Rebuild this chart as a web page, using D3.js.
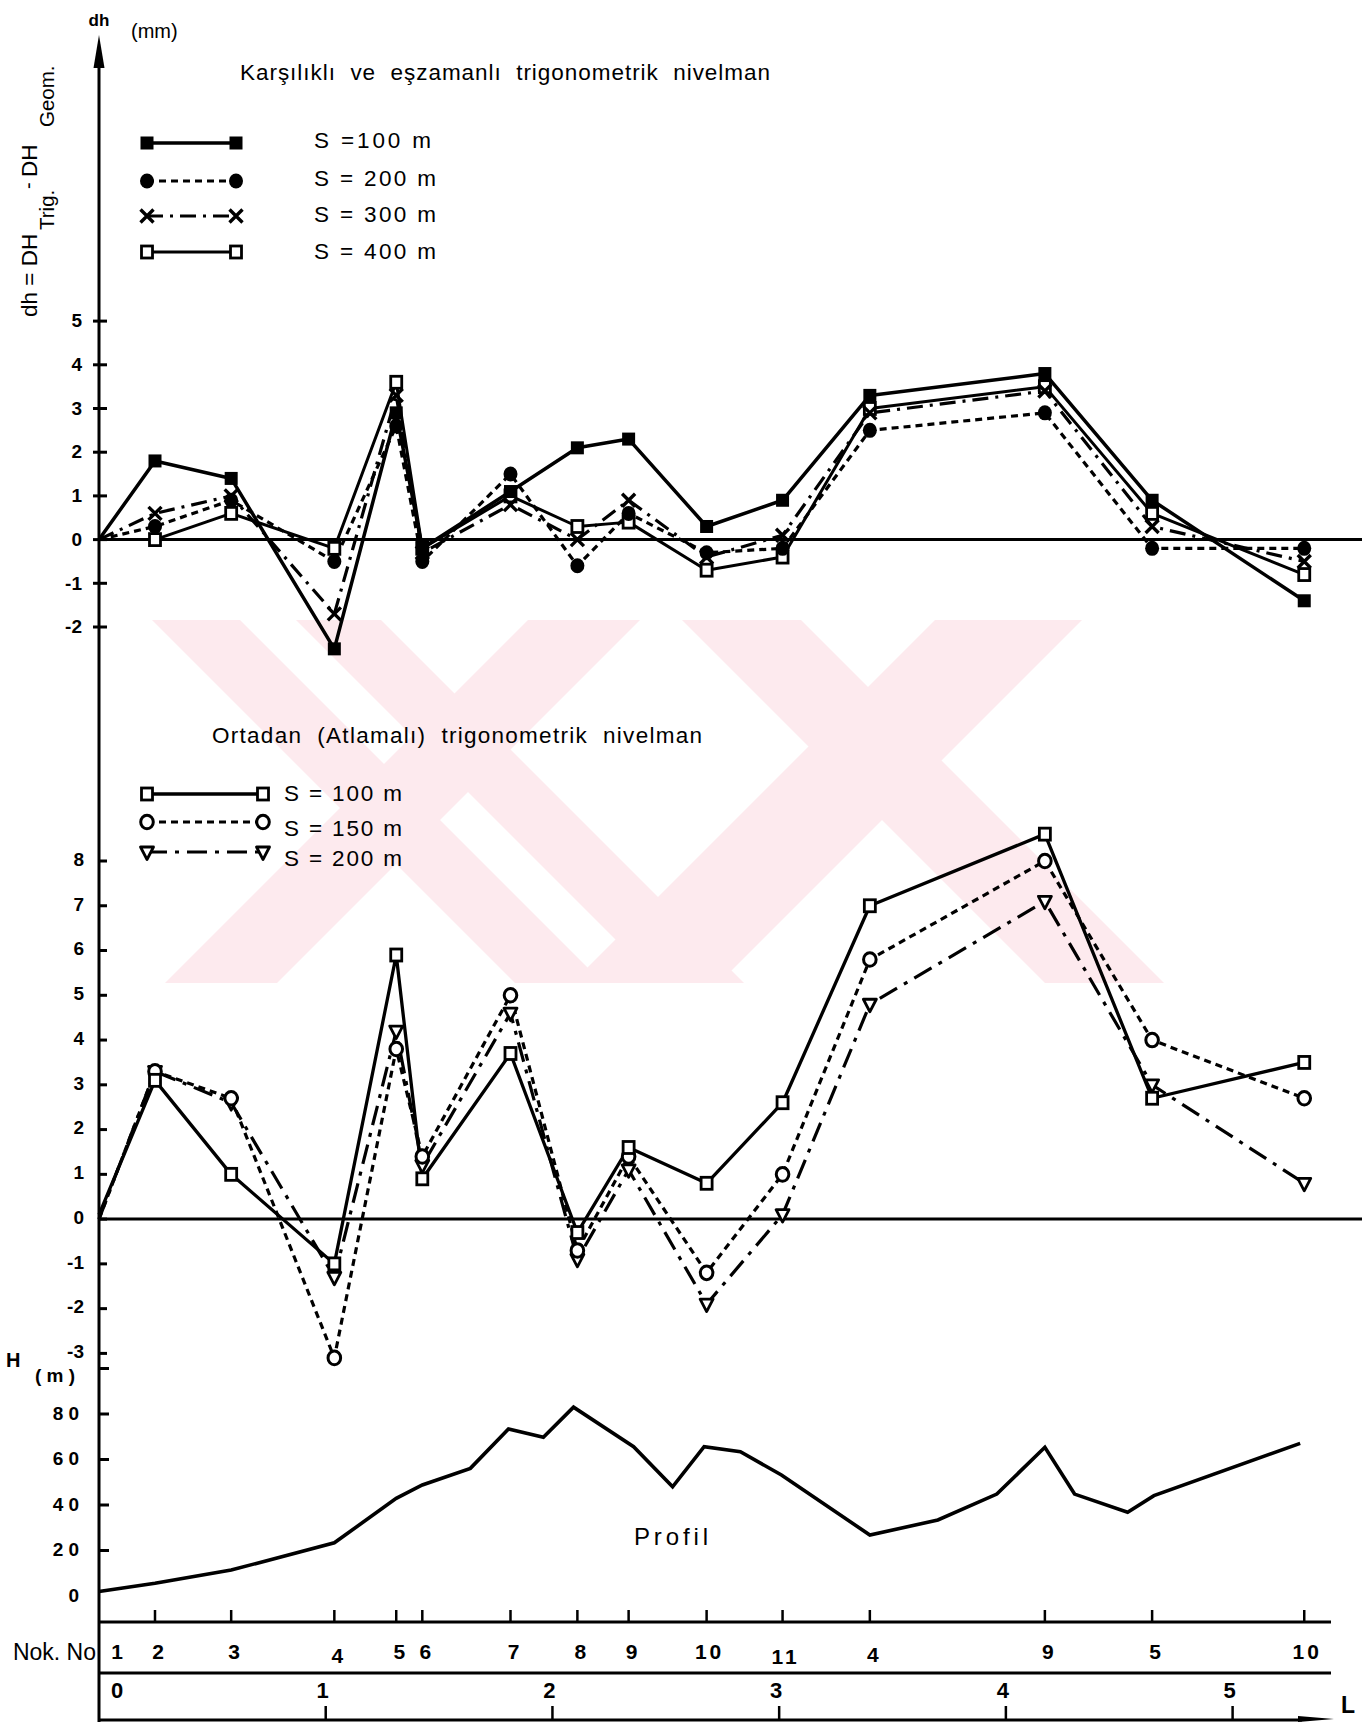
<!DOCTYPE html>
<html><head><meta charset="utf-8">
<script src="https://cdnjs.cloudflare.com/ajax/libs/d3/7.8.5/d3.min.js"></script>
<style>
html,body{margin:0;padding:0;background:#fff;}
svg{display:block;}
text{font-family:"Liberation Sans",Arial,sans-serif;fill:#000;}
.num{font-weight:bold;}
</style></head><body>
<div id="chart"></div>
<script>
// ---------------- DATA ----------------
const stations   = ["1","2","3","4","5","6","7","8","9","10","11","4","9","5","10"];
const stationKm  = [0, 0.247, 0.583, 1.038, 1.311, 1.426, 1.815, 2.110, 2.336, 2.680, 3.015, 3.400, 4.172, 4.645, 5.316];
const kmTicks    = [0, 1, 2, 3, 4, 5];

// Karşılıklı ve eşzamanlı trigonometrik nivelman (dh, mm)
const recipLabels = ["S =100 m", "S = 200 m", "S = 300 m", "S = 400 m"];
const recipS100 = [0, 1.8, 1.4, -2.5, 2.9, -0.2, 1.1, 2.1, 2.3, 0.3, 0.9, 3.3, 3.8, 0.9, -1.4];
const recipS200 = [0, 0.3, 0.9, -0.5, 2.6, -0.5, 1.5, -0.6, 0.6, -0.3, -0.2, 2.5, 2.9, -0.2, -0.2];
const recipS300 = [0, 0.6, 1.0, -1.7, 3.3, -0.3, 0.8, 0.0, 0.9, -0.4, 0.1, 2.9, 3.4, 0.3, -0.5];
const recipS400 = [0, 0.0, 0.6, -0.2, 3.6, -0.2, 1.0, 0.3, 0.4, -0.7, -0.4, 3.0, 3.5, 0.6, -0.8];

// Ortadan (Atlamalı) trigonometrik nivelman (dh, mm)
const midLabels = ["S = 100 m", "S = 150 m", "S = 200 m"];
const midS100 = [0.1, 3.1, 1.0, -1.0, 5.9, 0.9, 3.7, -0.3, 1.6, 0.8, 2.6, 7.0, 8.6, 2.7, 3.5];
const midS150 = [0, 3.3, 2.7, -3.1, 3.8, 1.4, 5.0, -0.7, 1.4, -1.2, 1.0, 5.8, 8.0, 4.0, 2.7];
const midS200 = [0, 3.3, 2.6, -1.3, 4.2, 1.2, 4.6, -0.9, 1.1, -1.9, 0.1, 4.8, 7.1, 3.0, 0.8];

// Profil (H, m)
const profileKm = [0, 0.247, 0.583, 1.038, 1.311, 1.426, 1.638, 1.806, 1.960, 2.093, 2.358, 2.530, 2.669, 2.829, 3.010, 3.400, 3.700, 3.960, 4.172, 4.303, 4.537, 4.653, 5.298];
const profileH  = [2, 5.6, 11.4, 23.4, 42.9, 48.8, 56.1, 73.4, 69.8, 83.0, 65.6, 48.0, 65.6, 63.4, 53.2, 26.8, 33.4, 44.8, 65.4, 44.8, 36.8, 44.1, 67.1];

// tick labels
const topTicks = [5, 4, 3, 2, 1, 0, -1, -2];
const midTicks = [8, 7, 6, 5, 4, 3, 2, 1, 0, -1, -2, -3];
const hTicks = [20, 40, 60, 80, 100];
const hTickLabels = [0, 20, 40, 60, 80];

// ---------------- CHART ----------------
const W = 1362, H = 1722;
const AX = 99;
const svg = d3.select("#chart").append("svg").attr("width", W).attr("height", H);

const x = d3.scaleLinear().domain([0, 5]).range([AX, 1232.6]);
const yTop = d3.scaleLinear().domain([-2, 5]).range([627, 321.1]);
const yMid = d3.scaleLinear().domain([-3, 8]).range([1353.4, 861]);
const yH = d3.scaleLinear().domain([0, 80]).range([1596, 1414]);

// watermark (decorative, light pink)
const wm = svg.append("g").attr("fill", "#fdeaee");
const wmTop = 620, wmBot = 983;
[
  [[152,240],[515,603]],
  [[296,381],[659,744]],
  [[528,640],[165,277]],
  [[682,801],[1045,1164]],
  [[935,1082],[572,719]]
].forEach(([t,b]) => {
  wm.append("path").attr("d", `M${t[0]},${wmTop}L${t[1]},${wmTop}L${b[1]},${wmBot}L${b[0]},${wmBot}Z`);
});

// zero lines
svg.append("line").attr("x1", AX).attr("x2", W).attr("y1", yTop(0)).attr("y2", yTop(0)).attr("stroke", "#000").attr("stroke-width", 3);
svg.append("line").attr("x1", AX).attr("x2", W).attr("y1", yMid(0)).attr("y2", yMid(0)).attr("stroke", "#000").attr("stroke-width", 3);

function drawMarker(g, type, cx, cy) {
  const m = g.append("g").attr("transform", `translate(${cx},${cy})`);
  if (type === "fsq") m.append("rect").attr("x", -6.5).attr("y", -6.5).attr("width", 13).attr("height", 13).attr("fill", "#000");
  else if (type === "fci") m.append("ellipse").attr("rx", 7).attr("ry", 7.5).attr("fill", "#000");
  else if (type === "x") m.append("path").attr("d", "M-6.5,-6.5L6.5,6.5M-6.5,6.5L6.5,-6.5").attr("stroke", "#000").attr("stroke-width", 3.4).attr("fill", "none");
  else if (type === "osq") m.append("rect").attr("x", -5.5).attr("y", -6).attr("width", 11).attr("height", 12).attr("fill", "#fff").attr("stroke", "#000").attr("stroke-width", 2.8);
  else if (type === "oci") m.append("ellipse").attr("rx", 6.3).attr("ry", 6.8).attr("fill", "#fff").attr("stroke", "#000").attr("stroke-width", 3);
  else if (type === "tri") m.append("path").attr("d", "M-6.5,-5L6.5,-5L0,7.5Z").attr("fill", "#fff").attr("stroke", "#000").attr("stroke-width", 2.8).attr("stroke-linejoin", "round");
}

const topSeries = [
  {vals: recipS400, marker: "osq", dash: null, w: 3},
  {vals: recipS300, marker: "x", dash: "16,7,3,7", w: 3.2},
  {vals: recipS200, marker: "fci", dash: "7,5", w: 3.2},
  {vals: recipS100, marker: "fsq", dash: null, w: 3.5}
];
const midSeries = [
  {vals: midS200, marker: "tri", dash: "20,8,4,8", w: 3.2},
  {vals: midS150, marker: "oci", dash: "7,5", w: 3.2},
  {vals: midS100, marker: "osq", dash: null, w: 3.3}
];

function drawSeries(series, yScale) {
  const g = svg.append("g");
  const line = d3.line().x((d, i) => x(stationKm[i])).y(d => yScale(d));
  series.forEach(s => {
    g.append("path").attr("d", line(s.vals)).attr("fill", "none").attr("stroke", "#000")
      .attr("stroke-width", s.w).attr("stroke-linejoin", "round")
      .attr("stroke-dasharray", s.dash);
  });
  series.forEach(s => {
    s.vals.forEach((v, i) => { if (i > 0) drawMarker(g, s.marker, x(stationKm[i]), yScale(v)); });
  });
}
drawSeries(topSeries, yTop);
drawSeries(midSeries, yMid);

// legends
function legendRow(y0, x1, x2, s, label, lx, ly, tl) {
  const g = svg.append("g");
  g.append("line").attr("x1", x1).attr("x2", x2).attr("y1", y0).attr("y2", y0)
    .attr("stroke", "#000").attr("stroke-width", s.w).attr("stroke-dasharray", s.dash);
  drawMarker(g, s.marker, x1, y0);
  drawMarker(g, s.marker, x2, y0);
  g.append("text").attr("x", lx).attr("y", ly).attr("font-size", 22.5)
    .attr("textLength", tl).attr("lengthAdjust", "spacing").text(label);
}
const topOrder = [topSeries[3], topSeries[2], topSeries[1], topSeries[0]];
const topRowY = [143, 181, 216, 252], topRowB = [148, 186, 222, 259];
topOrder.forEach((s, i) => legendRow(topRowY[i], 147, 236, s, recipLabels[i], 314, topRowB[i], i === 0 ? 117 : 122));
const midOrder = [midSeries[2], midSeries[1], midSeries[0]];
const midRowY = [794, 822, 852], midRowB = [801, 836, 866];
midOrder.forEach((s, i) => legendRow(midRowY[i], 147, 263, s, midLabels[i], 284, midRowB[i], 118));

// titles
svg.append("text").attr("x", 240).attr("y", 80).attr("font-size", 22.5).attr("xml:space", "preserve")
  .attr("textLength", 530).attr("lengthAdjust", "spacing")
  .text("Karşılıklı  ve  eşzamanlı  trigonometrik  nivelman");
svg.append("text").attr("x", 212).attr("y", 743).attr("font-size", 22.5).attr("xml:space", "preserve")
  .attr("textLength", 490).attr("lengthAdjust", "spacing")
  .text("Ortadan  (Atlamalı)  trigonometrik  nivelman");

// profile
svg.append("path")
  .attr("d", d3.line().x((d, i) => x(profileKm[i])).y(d => yH(d))(profileH))
  .attr("fill", "none").attr("stroke", "#000").attr("stroke-width", 3.6).attr("stroke-linejoin", "miter");
svg.append("text").attr("x", 634).attr("y", 1545).attr("font-size", 24)
  .attr("textLength", 74).attr("lengthAdjust", "spacing").text("Profil");

// vertical axis with arrow
svg.append("line").attr("x1", AX).attr("x2", AX).attr("y1", 60).attr("y2", H).attr("stroke", "#000").attr("stroke-width", 3);
svg.append("path").attr("d", `M${AX},35L${AX-5.5},68L${AX+5.5},68Z`).attr("fill", "#000");
svg.append("text").attr("x", AX).attr("y", 26).attr("text-anchor", "middle").attr("font-size", 17).attr("font-weight", "bold").text("dh");
svg.append("text").attr("x", 131).attr("y", 38).attr("font-size", 20).text("(mm)");

// rotated axis title
const rt = svg.append("g").attr("transform", "translate(37,317) rotate(-90)");
rt.append("text").attr("x", 0).attr("y", 0).attr("font-size", 22.5).attr("xml:space", "preserve").text("dh = DH");
rt.append("text").attr("x", 87).attr("y", 17).attr("font-size", 20.5).text("Trig.");
rt.append("text").attr("x", 128).attr("y", -2).attr("font-size", 20).text("-");
rt.append("text").attr("x", 140).attr("y", 0).attr("font-size", 22.5).text("DH");
rt.append("text").attr("x", 190).attr("y", 17).attr("font-size", 20.5).text("Geom.");

// top ticks
topTicks.forEach(t => {
  svg.append("line").attr("x1", AX - 6).attr("x2", AX + 8).attr("y1", yTop(t)).attr("y2", yTop(t)).attr("stroke", "#000").attr("stroke-width", 3);
  svg.append("text").attr("class", "num").attr("x", 82).attr("y", yTop(t)).attr("dy", "0.33em")
    .attr("text-anchor", "end").attr("font-size", 19).text(t);
});
// middle ticks
midTicks.forEach(t => {
  svg.append("line").attr("x1", AX).attr("x2", AX + 8).attr("y1", yMid(t)).attr("y2", yMid(t)).attr("stroke", "#000").attr("stroke-width", 3);
  svg.append("text").attr("class", "num").attr("x", 84).attr("y", yMid(t)).attr("dy", "0.25em")
    .attr("text-anchor", "end").attr("font-size", 19).text(t);
});
// H ticks
hTicks.forEach(t => {
  svg.append("line").attr("x1", AX).attr("x2", AX + 10).attr("y1", yH(t)).attr("y2", yH(t)).attr("stroke", "#000").attr("stroke-width", 3);
});
hTickLabels.forEach(t => {
  svg.append("text").attr("class", "num").attr("x", 84).attr("y", yH(t)).attr("dy", "0.3em")
    .attr("text-anchor", "end").attr("font-size", 19).attr("letter-spacing", 5).text(t);
});
svg.append("text").attr("class", "num").attr("x", 6).attr("y", 1367).attr("font-size", 20).text("H");
svg.append("text").attr("class", "num").attr("x", 35).attr("y", 1382).attr("font-size", 19).attr("xml:space", "preserve").text("( m )");

// Nok. No axis
const yNok = 1622, yKmLine = 1673, yBot = 1720, xEnd = 1331;
svg.append("line").attr("x1", AX).attr("x2", xEnd).attr("y1", yNok).attr("y2", yNok).attr("stroke", "#000").attr("stroke-width", 3);
svg.append("line").attr("x1", AX).attr("x2", xEnd).attr("y1", yKmLine).attr("y2", yKmLine).attr("stroke", "#000").attr("stroke-width", 3);
svg.append("line").attr("x1", AX).attr("x2", 1302).attr("y1", yBot).attr("y2", yBot).attr("stroke", "#000").attr("stroke-width", 3);
svg.append("path").attr("d", "M1298,1716L1334,1719L1298,1722Z").attr("fill", "#000");
svg.append("text").attr("class", "num").attr("x", 1341).attr("y", 1713).attr("font-size", 23).text("L");

stationKm.forEach((k, i) => {
  if (i > 0) svg.append("line").attr("x1", x(k)).attr("x2", x(k)).attr("y1", yNok).attr("y2", yNok - 12).attr("stroke", "#000").attr("stroke-width", 2.5);
  const dy = (i === 3) ? 4 : (i === 10 ? 5 : (i === 11 ? 3 : 0));
  svg.append("text").attr("class", "num").attr("x", i === 0 ? 117 : x(k) + 3).attr("y", 1659 + dy)
    .attr("text-anchor", "middle").attr("font-size", 21).attr("letter-spacing", stations[i].length > 1 ? 3 : 0).text(stations[i]);
});
svg.append("text").attr("x", 13).attr("y", 1660).attr("font-size", 23).attr("textLength", 83).attr("lengthAdjust", "spacingAndGlyphs").text("Nok. No");

kmTicks.forEach(k => {
  if (k > 0) svg.append("line").attr("x1", x(k)).attr("x2", x(k)).attr("y1", yBot).attr("y2", yBot - 14).attr("stroke", "#000").attr("stroke-width", 2.5);
  svg.append("text").attr("class", "num").attr("x", k === 0 ? 117 : x(k) - 3).attr("y", 1698)
    .attr("text-anchor", "middle").attr("font-size", 22).text(k);
});
</script>
</body></html>
